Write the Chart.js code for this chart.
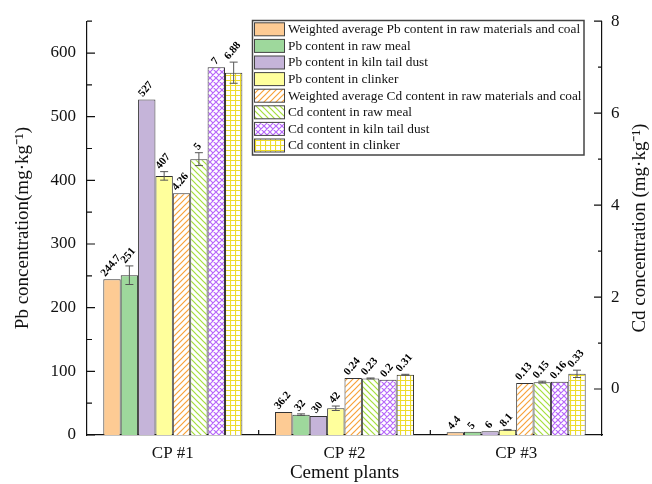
<!DOCTYPE html>
<html>
<head>
<meta charset="utf-8">
<script src="https://cdn.jsdelivr.net/npm/chart.js@4.4.1/dist/chart.umd.min.js"></script>
<style>html,body{margin:0;padding:0;background:#fff}</style>
</head>
<body>
<canvas id="c" width="652" height="484"></canvas>
<script>
const plants = ['CP #1', 'CP #2', 'CP #3'];
const pbWeighted = [244.7, 36.2, 4.4];
const pbRawMeal = [251, 32, 5];
const pbKilnDust = [527, 30, 6];
const pbClinker = [407, 42, 8.1];
const cdWeighted = [4.26, 0.24, 0.13];
const cdRawMeal = [5, 0.23, 0.15];
const cdKilnDust = [7, 0.2, 0.16];
const cdClinker = [6.88, 0.31, 0.33];
// error bars, same units as the series
const pbRawMealErr = [14.6, 1.2, 0];
const pbClinkerErr = [6.7, 3.5, 0.6];
const cdRawMealErr = [0.14, 0.01, 0.02];
const cdClinkerErr = [0.23, 0.01, 0.08];
const pbTicks = [0, 100, 200, 300, 400, 500, 600];
const cdTicks = [0, 2, 4, 6, 8];
const cdTitle = 'Cd concentration (mg·kg⁻¹)';

const serif = 'Liberation Serif';
const canvas = document.getElementById('c');
const ctx0 = canvas.getContext('2d');

function hatch(color, kind) {
  const s = kind === 'grid' ? 5 : 6;
  const c = document.createElement('canvas');
  c.width = s; c.height = s;
  const g = c.getContext('2d');
  g.fillStyle = '#fff';
  g.fillRect(0, 0, s, s);
  g.strokeStyle = color;
  g.lineWidth = 1.2;
  g.beginPath();
  if (kind === 'fwd' || kind === 'cross') {
    g.moveTo(-1, s + 1); g.lineTo(s + 1, -1);
    g.moveTo(-1, 1); g.lineTo(1, -1);
    g.moveTo(s - 1, s + 1); g.lineTo(s + 1, s - 1);
  }
  if (kind === 'back' || kind === 'cross') {
    g.moveTo(-1, -1); g.lineTo(s + 1, s + 1);
    g.moveTo(s - 1, -1); g.lineTo(s + 1, 1);
    g.moveTo(-1, s - 1); g.lineTo(1, s + 1);
  }
  if (kind === 'grid') {
    g.moveTo(0.5, 0); g.lineTo(0.5, s);
    g.moveTo(0, 0.5); g.lineTo(s, 0.5);
  }
  g.stroke();
  return ctx0.createPattern(c, 'repeat');
}

function pbSet(label, data, color, err) {
  return { label, data, errors: err, yAxisID: 'y', backgroundColor: color,
    borderColor: '#333', borderWidth: 1 };
}
function cdSet(label, data, fill, err) {
  return { label, data, errors: err, yAxisID: 'y1', base: -1, backgroundColor: fill,
    borderColor: '#333', borderWidth: 1 };
}

const extras = {
  id: 'extras',
  afterDatasetsDraw(chart) {
    const ctx = chart.ctx;
    chart.data.datasets.forEach((ds, i) => {
      const meta = chart.getDatasetMeta(i);
      const sc = chart.scales[meta.yAxisID];
      meta.data.forEach((el, j) => {
        const v = ds.data[j];
        const e = ds.errors ? ds.errors[j] : 0;
        let ref = el.y;
        if (e > 0) {
          const yt = sc.getPixelForValue(v + e), yb = sc.getPixelForValue(v - e);
          ctx.save();
          ctx.strokeStyle = '#555';
          ctx.lineWidth = 1;
          ctx.beginPath();
          ctx.moveTo(el.x, yt); ctx.lineTo(el.x, yb);
          ctx.moveTo(el.x - 4, yt); ctx.lineTo(el.x + 4, yt);
          ctx.moveTo(el.x - 4, yb); ctx.lineTo(el.x + 4, yb);
          ctx.stroke();
          ctx.restore();
          ref = Math.min(ref, yt);
        }
        const txt = String(v);
        ctx.save();
        ctx.font = 'bold 11px "' + serif + '"';
        const w = ctx.measureText(txt).width;
        const ang = 50 * Math.PI / 180;
        ctx.translate(el.x - 1, ref - 4 - (w / 2) * Math.sin(ang));
        ctx.rotate(-ang);
        ctx.fillStyle = '#000';
        ctx.textAlign = 'center';
        ctx.textBaseline = 'middle';
        ctx.fillText(txt, 0, 0);
        ctx.restore();
      });
    });
  },
  afterDraw(chart) {
    const ctx = chart.ctx;
    const a = chart.chartArea;
    const y = chart.scales.y, y1 = chart.scales.y1, x = chart.scales.x;
    ctx.save();
    ctx.strokeStyle = '#111';
    ctx.lineWidth = 1.2;
    ctx.beginPath();
    pbTicks.forEach(v => { const p = y.getPixelForValue(v); ctx.moveTo(a.left, p); ctx.lineTo(a.left + 8, p); });
    pbTicks.forEach(v => { const p = y.getPixelForValue(v + 50); ctx.moveTo(a.left, p); ctx.lineTo(a.left + 5, p); });
    cdTicks.forEach(v => { const p = y1.getPixelForValue(v); ctx.moveTo(a.right, p); ctx.lineTo(a.right - 8, p); });
    [1, 3, 5, 7].forEach(v => { const p = y1.getPixelForValue(v); ctx.moveTo(a.right, p); ctx.lineTo(a.right - 4, p); });
    [0.5, 1.5].forEach(v => { const p = x.getPixelForValue(v); ctx.moveTo(p, a.bottom); ctx.lineTo(p, a.bottom - 5); });
    ctx.stroke();

    // right axis title, reading bottom to top
    ctx.save();
    ctx.translate(640, (a.top + a.bottom) / 2);
    ctx.rotate(-Math.PI / 2);
    ctx.font = '19px "' + serif + '"';
    ctx.fillStyle = '#111';
    ctx.textAlign = 'center';
    ctx.textBaseline = 'middle';
    ctx.fillText(cdTitle, 0, 0);
    ctx.restore();

    // legend
    const lx = 252.5, ly = 20.5, lw = 331.5, lh = 134.5, pitch = 16.6;
    ctx.fillStyle = '#fff';
    ctx.fillRect(lx, ly, lw, lh);
    ctx.strokeStyle = '#444';
    ctx.lineWidth = 1.5;
    ctx.strokeRect(lx, ly, lw, lh);
    ctx.font = '13.3px "' + serif + '"';
    ctx.textBaseline = 'middle';
    ctx.textAlign = 'left';
    chart.data.datasets.forEach((ds, i) => {
      const cy = 29.3 + i * pitch;
      ctx.fillStyle = ds.backgroundColor;
      ctx.fillRect(254.5, cy - 6.5, 30, 13);
      ctx.strokeStyle = '#444';
      ctx.lineWidth = 1;
      ctx.strokeRect(254.5, cy - 6.5, 30, 13);
      ctx.fillStyle = '#111';
      ctx.fillText(ds.label, 288, cy + 0.5);
    });
    ctx.restore();
  }
};

new Chart(canvas, {
  type: 'bar',
  data: {
    labels: plants,
    datasets: [
      pbSet('Weighted average Pb content in raw materials and coal', pbWeighted, '#FDCB94'),
      pbSet('Pb content in raw meal', pbRawMeal, '#9ED89C', pbRawMealErr),
      pbSet('Pb content in kiln tail dust', pbKilnDust, '#C5B4D9'),
      pbSet('Pb content in clinker', pbClinker, '#FFFF9C', pbClinkerErr),
      cdSet('Weighted average Cd content in raw materials and coal', cdWeighted, hatch('#F7A23A', 'fwd')),
      cdSet('Cd content in raw meal', cdRawMeal, hatch('#A5DE3C', 'back'), cdRawMealErr),
      cdSet('Cd content in kiln tail dust', cdKilnDust, hatch('#B768FA', 'cross')),
      cdSet('Cd content in clinker', cdClinker, hatch('#EEDC2A', 'grid'), cdClinkerErr)
    ]
  },
  options: {
    responsive: false,
    animation: false,
    categoryPercentage: 0.81,
    barPercentage: 1,
    layout: { padding: { top: 20, left: 0, right: 0, bottom: 0 } },
    plugins: { legend: { display: false }, tooltip: { enabled: false } },
    scales: {
      x: {
        grid: { display: false, drawTicks: false },
        border: { display: true, color: '#111', width: 1.2 },
        ticks: { color: '#111', padding: 8, font: { family: serif, size: 17 } },
        title: { display: true, text: 'Cement plants', color: '#111', padding: { top: 0, bottom: 0 },
          font: { family: serif, size: 19 } },
        afterFit(s) { s.height = 49; }
      },
      y: {
        position: 'left',
        min: 0, max: 650,
        grid: { display: false, drawTicks: false },
        border: { display: true, color: '#111', width: 1.2 },
        afterBuildTicks(s) { s.ticks = pbTicks.map(v => ({ value: v })); },
        ticks: { color: '#111', padding: 11, font: { family: serif, size: 17 } },
        title: { display: true, text: 'Pb concentration(mg·kg⁻¹)', color: '#111', padding: { top: 12, bottom: 0 },
          font: { family: serif, size: 19 } },
        afterFit(s) { s.width = 87; }
      },
      y1: {
        position: 'right',
        min: -1, max: 8,
        grid: { display: false, drawTicks: false },
        border: { display: true, color: '#111', width: 1.2 },
        afterBuildTicks(s) { s.ticks = cdTicks.map(v => ({ value: v })); },
        ticks: { color: '#111', padding: 9, font: { family: serif, size: 17 } },
        afterFit(s) { s.width = 50; }
      }
    }
  },
  plugins: [extras]
});
</script>
</body>
</html>
